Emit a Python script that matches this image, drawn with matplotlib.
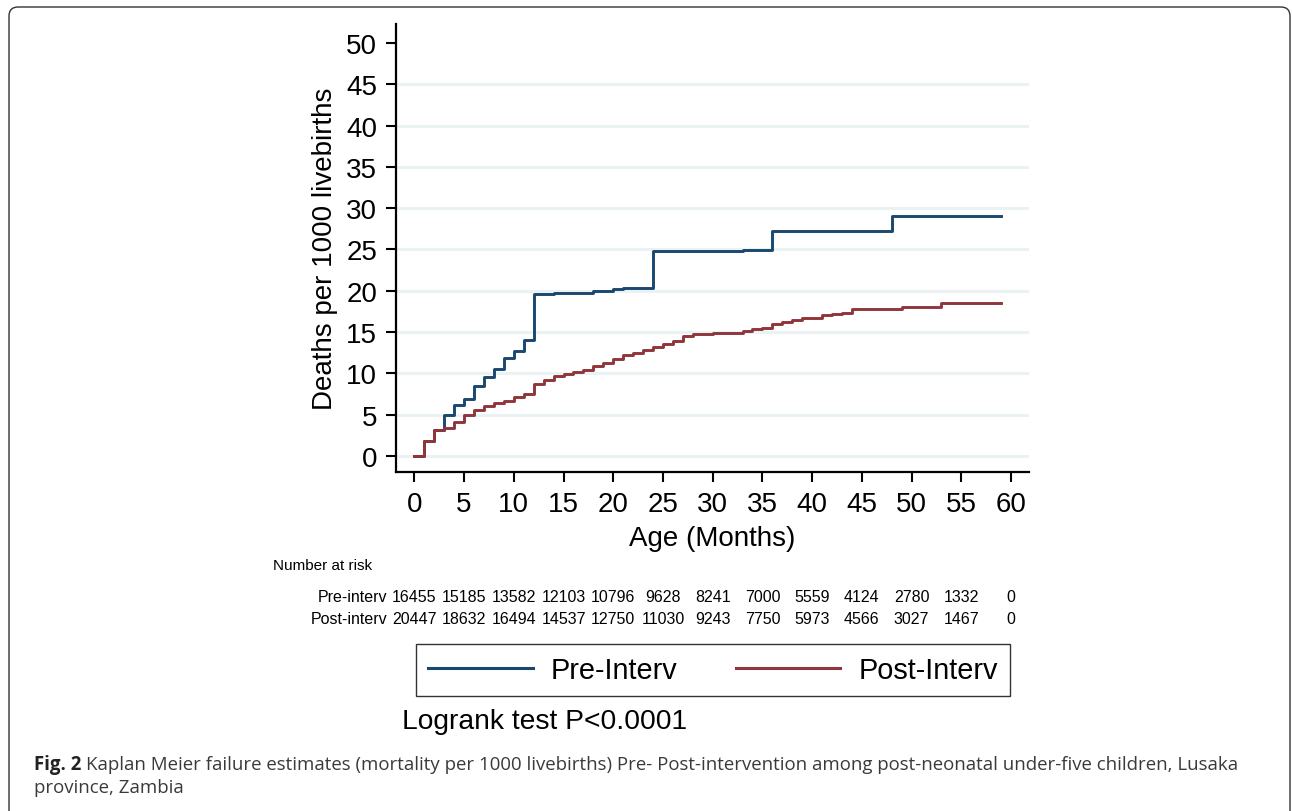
import matplotlib
matplotlib.use("Agg")
import matplotlib.pyplot as plt
from matplotlib import font_manager
from matplotlib.patches import FancyBboxPatch
from matplotlib.transforms import IdentityTransform, blended_transform_factory

# monthly KM failure estimates (deaths per 1000), value held from month m to m+1
months = list(range(60))
pre_interv = [0, 1.75, 3.08, 5.0, 6.17, 6.93, 8.4, 9.5, 10.5, 11.9, 12.65, 13.98,
              19.6, 19.65, 19.7, 19.7, 19.7, 19.75, 19.9, 20.0, 20.2, 20.35, 20.35, 20.35,
              24.85, 24.85, 24.85, 24.85, 24.85, 24.85, 24.85, 24.85, 24.85, 24.95, 24.95, 24.95,
              27.25, 27.25, 27.25, 27.25, 27.25, 27.25, 27.25, 27.25, 27.25, 27.25, 27.25, 27.25,
              29.0, 29.0, 29.0, 29.0, 29.0, 29.0, 29.0, 29.0, 29.0, 29.0, 29.0, 29.0]
post_interv = [0, 1.75, 3.08, 3.37, 4.04, 5.0, 5.53, 6.0, 6.37, 6.68, 7.16, 7.49,
               8.65, 9.13, 9.65, 9.85, 10.2, 10.37, 10.9, 11.2, 11.7, 12.2, 12.4, 12.87,
               13.15, 13.5, 13.9, 14.5, 14.7, 14.75, 14.9, 14.9, 14.9, 15.1, 15.3, 15.5,
               16.0, 16.2, 16.5, 16.65, 16.65, 17.0, 17.2, 17.35, 17.75, 17.75, 17.75, 17.75,
               17.75, 18.05, 18.05, 18.05, 18.05, 18.5, 18.5, 18.5, 18.5, 18.5, 18.5, 18.5]

risk_times = list(range(0, 61, 5))
risk_pre = [16455, 15185, 13582, 12103, 10796, 9628, 8241, 7000, 5559, 4124, 2780, 1332, 0]
risk_post = [20447, 18632, 16494, 14537, 12750, 11030, 9243, 7750, 5973, 4566, 3027, 1467, 0]

y_ticks = list(range(0, 51, 5))
x_ticks = list(range(0, 61, 5))

def have_font(name):
    try:
        font_manager.findfont(name, fallback_to_default=False)
        return True
    except Exception:
        return False

main_font = "Liberation Sans"
narrow_font = "Liberation Sans Narrow" if have_font("Liberation Sans Narrow") else main_font
cap_font = "Open Sans"
plt.rcParams['font.family'] = [main_font, 'DejaVu Sans']

blue = "#1a476f"
red = "#90353b"

fig = plt.figure(figsize=(12.92, 8.12), dpi=100)
ax = fig.add_axes([396/1292, 1-473.3/812, (1029-396)/1292, (473.3-25)/812])

# steps-post, last value carried to the end of month 59
ax.plot(months + [59], pre_interv + [pre_interv[-1]], drawstyle="steps-post",
        color=blue, lw=2.1, label="Pre-Interv", zorder=3)
ax.plot(months + [59], post_interv + [post_interv[-1]], drawstyle="steps-post",
        color=red, lw=2.1, label="Post-Interv", zorder=3)

ax.set_xlim(-1.84, 61.8)
ax.set_ylim(-2.0, 52.3)
for v in y_ticks[:-1]:
    ax.axhline(v, color="#eaf2f3", lw=2.2, zorder=1)
ax.set_yticks(y_ticks)
ax.set_xticks(x_ticks)
ax.tick_params(labelsize=20, length=7.5, width=1.5, pad=6, colors="black")
for s in ["top", "right"]:
    ax.spines[s].set_visible(False)
for s in ["left", "bottom"]:
    ax.spines[s].set_linewidth(1.6)
ax.set_ylabel("Deaths per 1000 livebirths", fontsize=20, labelpad=6)
ax.set_xlabel("Age (Months)", fontsize=20, labelpad=5.5)

# number at risk table
tr = blended_transform_factory(ax.transData, fig.transFigure)
fig.text(273/1292, 1-566/812, "Number at risk", fontsize=11, family=narrow_font, va="center")
for row, lab, yp in [(risk_pre, "Pre-interv", 598), (risk_post, "Post-interv", 620)]:
    fig.text(387/1292, 1-yp/812, lab, fontsize=11.5, family=narrow_font, va="center", ha="right")
    for t, n in zip(risk_times, row):
        ax.text(t, 1-yp/812, str(n), transform=tr, fontsize=11.5, family=narrow_font,
                va="center", ha="center")

leg = fig.legend(loc="lower left", ncol=2, mode="expand",
                 bbox_to_anchor=(416/1292, 1-697/812, 594/1292, 54/812),
                 fontsize=20.8, frameon=True, fancybox=False, edgecolor="black",
                 handlelength=3.63, handletextpad=0.62, borderpad=0.42, borderaxespad=0)
leg.get_frame().set_linewidth(1.0)
for h in leg.get_lines():
    h.set_linewidth(2.2)

fig.text(402/1292, 1-722/812, "Logrank test P<0.0001", fontsize=20.3, va="center")

# caption
cap1 = fig.text(34/1292, 1-765/812, "Fig. 2", fontsize=13.4, family=cap_font,
                weight="bold", color="#222222", va="center")
fig.canvas.draw()
bb = cap1.get_window_extent()
fig.text((bb.x1 + 5)/1292, 1-765/812,
         "Kaplan Meier failure estimates (mortality per 1000 livebirths) Pre- Post-intervention "
         "among post-neonatal under-five children, Lusaka",
         fontsize=13.4, family=cap_font, color="#3a3a3a", va="center")
fig.text(34/1292, 1-788/812, "province, Zambia", fontsize=13.4, family=cap_font,
         color="#3a3a3a", va="center")

frame = FancyBboxPatch((9, -20), 1281, 824, boxstyle="round,pad=0,rounding_size=9",
                       transform=IdentityTransform(), fill=False, edgecolor="#333333", lw=1.0)
fig.patches.append(frame)

fig.savefig("out.png", dpi=100)
